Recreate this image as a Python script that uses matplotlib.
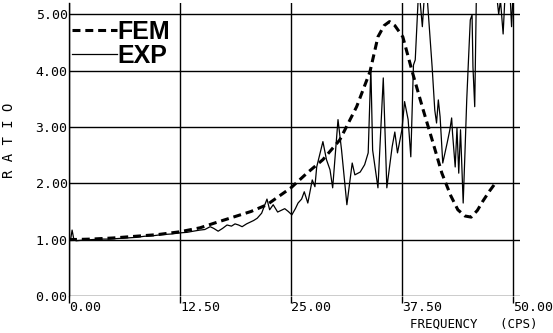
import numpy as np
import matplotlib.pyplot as plt
from matplotlib.lines import Line2D

# FEM prediction (dashed)
fem_freq = [0.0, 2.5, 5.0, 7.5, 10.0, 12.5, 14.75, 16.5, 18.5, 20.5, 22.3, 25.0, 26.8,
            28.6, 30.5, 32.4, 33.9, 34.8, 35.5, 36.1, 36.7, 37.6, 38.7, 39.9, 41.0,
            42.0, 43.0, 43.8, 44.6, 45.3, 46.0, 46.6, 47.4, 48.2]
fem_ratio = [1.00, 1.01, 1.03, 1.06, 1.09, 1.14, 1.21, 1.30, 1.40, 1.50, 1.62, 1.92, 2.18,
             2.42, 2.77, 3.36, 3.98, 4.60, 4.80, 4.87, 4.80, 4.60, 3.96, 3.30, 2.72,
             2.18, 1.78, 1.53, 1.42, 1.40, 1.52, 1.68, 1.87, 2.04]

# measured (solid)
exp_freq = [0.0, 0.2, 0.35, 0.55, 0.8, 1.5, 2.5, 3.5, 4.5, 5.5, 6.5, 7.5, 8.5, 9.5,
            10.5, 11.5, 12.5, 13.3, 14.0, 14.75, 15.3, 15.9, 16.3, 16.8, 17.3, 17.8,
            18.3, 18.7, 19.1, 19.5, 20.0, 20.4, 20.8, 21.2, 21.7, 22.3, 22.6, 23.0,
            23.5, 23.9, 24.3, 24.7, 25.1, 25.5, 25.8, 26.2, 26.5, 26.9, 27.4, 27.7,
            27.9, 28.6, 29.0, 29.4, 29.7, 30.3, 30.7, 31.3, 31.9, 32.2, 32.8, 33.3,
            33.7, 34.0, 34.2, 34.8, 35.4, 35.8, 36.4, 36.7, 37.0, 37.5, 37.8, 38.2,
            38.5, 38.8, 39.0, 39.4, 39.8, 40.1, 40.3, 40.9, 41.2, 41.4, 41.6, 41.8,
            42.1, 42.6, 42.9, 43.1, 43.2, 43.5, 43.7, 43.9, 44.1, 44.4, 44.6, 44.8,
            45.0, 45.2, 45.4, 45.5, 45.7, 45.9, 46.5, 47.5, 48.2, 48.4, 48.6, 48.9,
            49.1, 49.5, 49.7, 49.85, 50.0]
exp_ratio = [1.00, 1.02, 1.17, 1.00, 0.98, 0.99, 1.00, 1.01, 1.01, 1.02, 1.03, 1.04, 1.06, 1.07,
             1.09, 1.10, 1.12, 1.13, 1.15, 1.17, 1.18, 1.23, 1.20, 1.15, 1.20, 1.26,
             1.24, 1.28, 1.26, 1.23, 1.28, 1.31, 1.34, 1.38, 1.47, 1.72, 1.53, 1.62,
             1.49, 1.52, 1.55, 1.50, 1.44, 1.55, 1.65, 1.72, 1.85, 1.65, 2.06, 1.94,
             2.29, 2.74, 2.42, 2.24, 1.92, 3.13, 2.59, 1.62, 2.36, 2.15, 2.20, 2.33,
             2.54, 4.05, 2.59, 1.92, 3.87, 1.92, 2.65, 2.91, 2.54, 2.95, 3.45, 3.13,
             2.47, 4.10, 4.19, 5.50, 4.78, 5.50, 5.40, 4.07, 3.30, 3.07, 3.48, 3.18,
             2.36, 2.72, 2.95, 3.16, 2.89, 2.29, 2.98, 2.18, 2.95, 1.65, 2.54, 3.48,
             4.20, 4.90, 4.99, 4.07, 3.36, 5.50, 5.60, 5.60, 5.30, 5.00, 5.25, 4.65,
             5.30, 5.60, 5.30, 4.78, 5.30]

x_ticks = [0.0, 12.5, 25.0, 37.5, 50.0]
x_labels = ['0.00', '12.50', '25.00', '37.50', '50.00']
y_ticks = [0, 1, 2, 3, 4, 5]
y_labels = ['0.00', '1.00', '2.00', '3.00', '4.00', '5.00']

mono = 'DejaVu Sans Mono'

fig = plt.figure(figsize=(5.53, 3.33), dpi=100)
ax = fig.add_axes([69 / 553, 37 / 333, 451 / 553, 293 / 333])
ax.set_xlim(0, 50.8)
ax.set_ylim(0, 5.2)

# grid drawn as plain black lines like the plotter output
for yv in y_ticks:
    ax.axhline(yv, color='black', lw=1.0, zorder=1)
for xv in x_ticks:
    ax.axvline(xv, color='black', lw=1.0, zorder=1)

ax.plot(exp_freq, exp_ratio, color='black', lw=0.9, zorder=3)
ax.plot(fem_freq, fem_ratio, color='black', lw=2.2, dashes=(2.6, 1.6), zorder=3)

for s in ['top', 'right', 'bottom']:
    ax.spines[s].set_visible(False)
ax.spines['left'].set_linewidth(1.0)

ax.set_xticks(x_ticks)
ax.set_xticklabels(x_labels, ha='left', family=mono, fontsize=9.5)
ax.set_yticks(y_ticks)
ax.set_yticklabels(y_labels, family=mono, fontsize=9.5)
ax.tick_params(axis='x', direction='out', length=5, width=1.0, pad=-1.5)
ax.tick_params(axis='y', length=0, pad=1)

ax.set_xlabel('FREQUENCY   (CPS)', family=mono, fontsize=9, loc='right')
ax.xaxis.set_label_coords(1.038, -0.075)
ax.set_ylabel('R A T I O', family=mono, fontsize=10)
ax.yaxis.set_label_coords(-0.118, 0.53)

handles = [Line2D([], [], color='black', lw=2.2, dashes=(2.6, 1.6)),
           Line2D([], [], color='black', lw=0.9)]
ax.legend(handles, ['FEM', 'EXP'], loc='upper left', bbox_to_anchor=(0.0, 0.95),
          frameon=False, handlelength=1.8, handletextpad=0.05, borderaxespad=0.1,
          borderpad=0, labelspacing=0.0,
          prop={'family': 'Liberation Sans', 'weight': 'bold', 'size': 18})

plt.savefig('out.png', dpi=100)
